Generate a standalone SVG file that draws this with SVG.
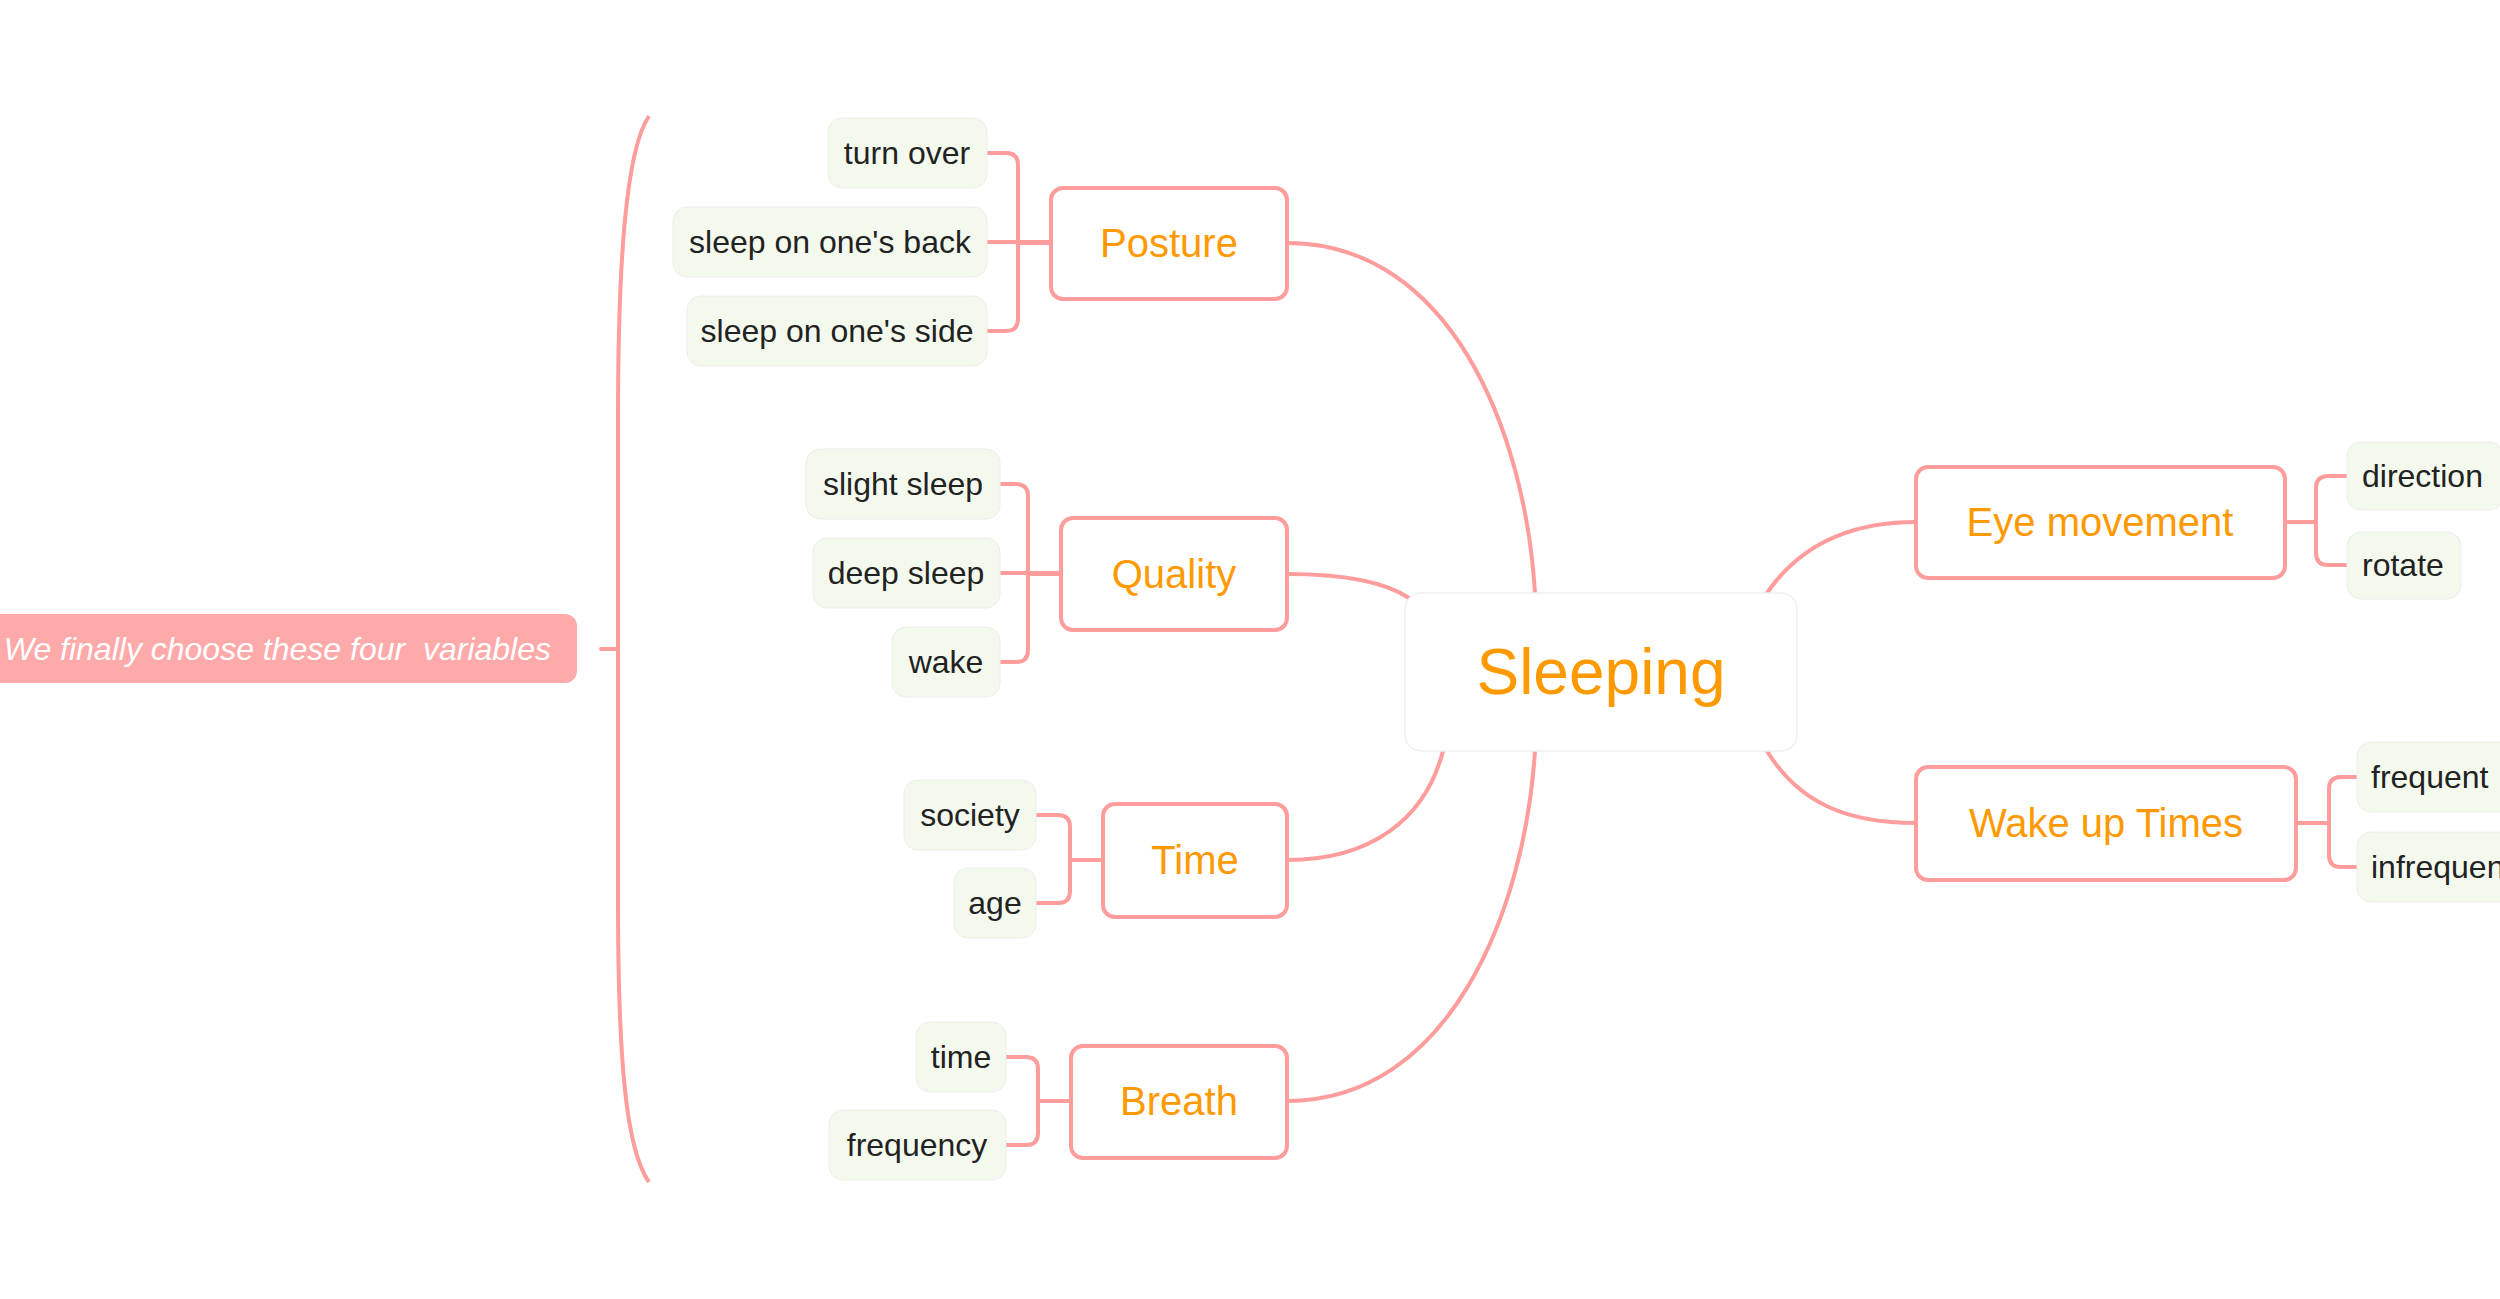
<svg xmlns="http://www.w3.org/2000/svg" width="2500" height="1299" viewBox="0 0 2500 1299">
<style>
.topic{fill:#ffffff;stroke:#ff9c9c;stroke-width:4}
.tt{font-family:"Liberation Sans",Arial,sans-serif;font-size:40px;fill:#ff9900;text-anchor:middle}
.leaf{fill:#f4f9ee;stroke:#eceeea;stroke-width:1}
.lt{font-family:"Liberation Sans",Arial,sans-serif;font-size:32px;fill:#222222;text-anchor:middle}
.lts{font-family:"Liberation Sans",Arial,sans-serif;font-size:32px;fill:#222222;text-anchor:start}
.ln{fill:none;stroke:#ff9c9c;stroke-width:4;stroke-linecap:round}
.br{fill:none;stroke:#ff9c9c;stroke-width:4}
</style>
<rect width="2500" height="1299" fill="#ffffff"/>
<g id="connectors">
<!-- central to main topics -->
<path class="ln" d="M1287,243 C1450,243 1525,430 1535,593"/>
<path class="ln" d="M1287,574 C1345,574 1385,582 1409,598"/>
<path class="ln" d="M1287,860 C1370,860 1425,820 1443,751"/>
<path class="ln" d="M1287,1101 C1450,1101 1525,910 1535,751"/>
<path class="ln" d="M1767,593 C1800,545 1850,522 1916,522"/>
<path class="ln" d="M1767,751 C1800,805 1850,823 1916,823"/>
<!-- Posture leaves -->
<path class="ln" d="M987,153 H1006 Q1018,153 1018,165 V243 H1051"/>
<path class="ln" d="M987,242 H1051"/>
<path class="ln" d="M987,331 H1006 Q1018,331 1018,319 V243"/>
<!-- Quality leaves -->
<path class="ln" d="M1000,484 H1016 Q1028,484 1028,496 V574 H1061"/>
<path class="ln" d="M1000,573 H1061"/>
<path class="ln" d="M1000,662 H1016 Q1028,662 1028,650 V574"/>
<!-- Time leaves -->
<path class="ln" d="M1036,815 H1058 Q1070,815 1070,827 V860 H1103"/>
<path class="ln" d="M1036,903 H1058 Q1070,903 1070,891 V860"/>
<!-- Breath leaves -->
<path class="ln" d="M1006,1057 H1026 Q1038,1057 1038,1069 V1101 H1071"/>
<path class="ln" d="M1006,1145 H1026 Q1038,1145 1038,1133 V1101"/>
<!-- Eye movement leaves -->
<path class="ln" d="M2347,476 H2328 Q2316,476 2316,488 V522 H2285"/>
<path class="ln" d="M2347,565 H2328 Q2316,565 2316,553 V522"/>
<!-- Wake up leaves -->
<path class="ln" d="M2357,777 H2341 Q2329,777 2329,789 V823 H2296"/>
<path class="ln" d="M2357,867 H2341 Q2329,867 2329,855 V823"/>
<!-- summary bracket -->
<path class="br" d="M649,116 C626,150 618,260 618,420 L618,900 C618,1060 626,1150 649,1182"/>
<path class="ln" d="M601,649 H618" stroke-width="3"/>
</g>
<g id="summary">
<rect x="-30" y="614" width="607" height="69" rx="12" fill="#ffaaaa"/>
<text x="551" y="660" xml:space="preserve" font-family="Liberation Sans, Arial, sans-serif" font-size="32" font-style="italic" fill="#ffffff" text-anchor="end">We finally choose these four  variables</text>
</g>
<g id="sleeping">
<rect x="1405" y="593" width="392" height="158" rx="16" fill="#ffffff" stroke="#f0f0f0" stroke-width="1.5"/>
<text x="1601" y="694" font-family="Liberation Sans, Arial, sans-serif" font-size="64" fill="#ff9900" text-anchor="middle">Sleeping</text>
</g>
<g id="posture">
<rect class="topic" x="1051" y="188" width="236" height="111" rx="12"/>
<text class="tt" x="1169" y="257">Posture</text>
</g>
<g id="turn-over"><rect class="leaf" x="828" y="118" width="159" height="70" rx="14"/><text class="lt" x="907" y="164">turn over</text></g>
<g id="sleep-back"><rect class="leaf" x="673" y="207" width="314" height="70" rx="14"/><text class="lt" x="830" y="253">sleep on one's back</text></g>
<g id="sleep-side"><rect class="leaf" x="687" y="296" width="300" height="70" rx="14"/><text class="lt" x="837" y="342">sleep on one's side</text></g>
<g id="quality">
<rect class="topic" x="1061" y="518" width="226" height="112" rx="12"/>
<text class="tt" x="1174" y="588">Quality</text>
</g>
<g id="slight-sleep"><rect class="leaf" x="806" y="449" width="194" height="70" rx="14"/><text class="lt" x="903" y="495">slight sleep</text></g>
<g id="deep-sleep"><rect class="leaf" x="813" y="538" width="187" height="70" rx="14"/><text class="lt" x="906" y="584">deep sleep</text></g>
<g id="wake"><rect class="leaf" x="892" y="627" width="108" height="70" rx="14"/><text class="lt" x="946" y="673">wake</text></g>
<g id="time">
<rect class="topic" x="1103" y="804" width="184" height="113" rx="12"/>
<text class="tt" x="1195" y="874">Time</text>
</g>
<g id="society"><rect class="leaf" x="904" y="780" width="132" height="70" rx="14"/><text class="lt" x="970" y="826">society</text></g>
<g id="age"><rect class="leaf" x="954" y="868" width="82" height="70" rx="14"/><text class="lt" x="995" y="914">age</text></g>
<g id="breath">
<rect class="topic" x="1071" y="1046" width="216" height="112" rx="12"/>
<text class="tt" x="1179" y="1115">Breath</text>
</g>
<g id="time-leaf"><rect class="leaf" x="916" y="1022" width="90" height="70" rx="14"/><text class="lt" x="961" y="1068">time</text></g>
<g id="frequency"><rect class="leaf" x="829" y="1110" width="177" height="70" rx="14"/><text class="lt" x="917" y="1156">frequency</text></g>
<g id="eye-movement">
<rect class="topic" x="1916" y="467" width="369" height="111" rx="12"/>
<text class="tt" x="2100" y="536">Eye movement</text>
</g>
<g id="direction"><rect class="leaf" x="2347" y="442" width="156" height="68" rx="14"/><text class="lts" x="2362" y="487">direction</text></g>
<g id="rotate"><rect class="leaf" x="2347" y="532" width="114" height="67" rx="14"/><text class="lts" x="2362" y="576">rotate</text></g>
<g id="wake-up-times">
<rect class="topic" x="1916" y="767" width="380" height="113" rx="12"/>
<text class="tt" x="2106" y="837">Wake up Times</text>
</g>
<g id="frequent"><rect class="leaf" x="2357" y="742" width="180" height="70" rx="14"/><text class="lts" x="2371" y="788">frequent</text></g>
<g id="infrequent"><rect class="leaf" x="2357" y="832" width="200" height="70" rx="14"/><text class="lts" x="2371" y="878">infrequent</text></g>
</svg>
